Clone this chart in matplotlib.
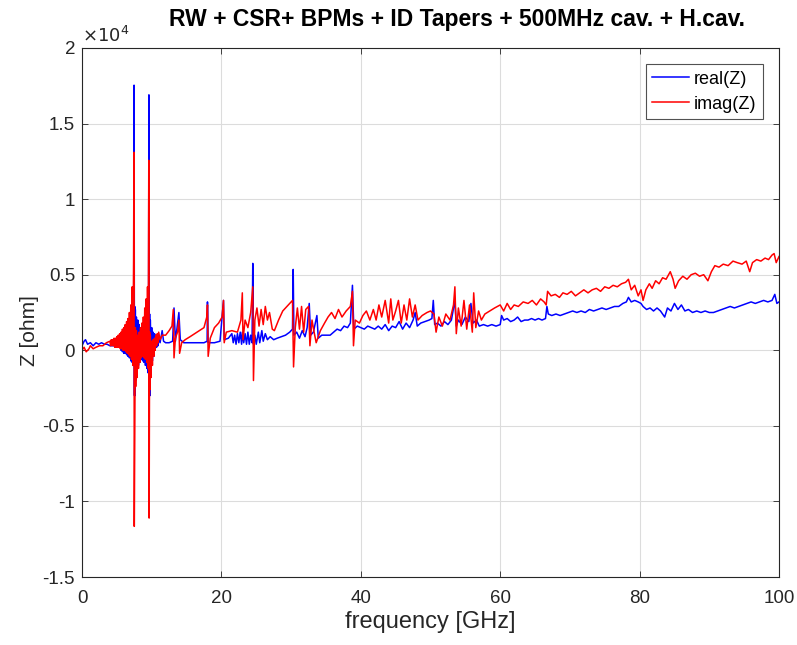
import numpy as np
import matplotlib.pyplot as plt

plt.rcParams['font.family'] = ['Liberation Sans', 'DejaVu Sans']

# ---------------------------------------------------------------
# impedance, Z in units of 1e4 ohm
# ---------------------------------------------------------------
freq_re = [0.0, 0.3, 0.5, 0.8, 1.2, 1.6, 2.0, 2.4, 2.8, 3.2, 3.6, 4.0, 4.5, 5.0,
           5.5, 5.6, 5.7, 5.8, 5.9, 6.0, 6.1, 6.2, 6.3, 6.4, 6.5, 6.6, 6.7, 6.8, 6.9,
           7.0, 7.1, 7.2, 7.3, 7.35, 7.42,
           7.47, 7.52, 7.56, 7.6, 7.65, 7.7, 7.8, 7.9, 8.0, 8.1, 8.2, 8.3, 8.4, 8.5,
           8.6, 8.7, 8.8, 8.9, 9.0, 9.1, 9.2, 9.3, 9.4, 9.5, 9.55,
           9.6, 9.65, 9.7, 9.75, 9.8, 9.9, 10.0, 10.1, 10.2, 10.3, 10.4, 10.5, 10.6,
           10.7, 10.8, 10.9, 11.0, 11.2, 11.5, 11.7, 12.0, 12.5, 13.0, 13.2, 13.4,
           13.9, 14.1, 14.6, 15.5, 16.5, 17.5, 17.95, 18.0, 18.1, 19.0, 19.8, 20.3,
           20.4, 21.0, 21.5, 21.7, 21.9, 22.1, 22.3, 22.5, 22.7, 22.9, 23.0, 23.2,
           23.4, 23.6, 23.8, 24.0, 24.2, 24.4, 24.5, 24.6, 24.8, 25.0, 25.3, 25.5,
           25.8, 26.0, 26.3, 26.6, 27.0, 27.5, 28.0, 28.6, 29.2, 29.8, 30.2, 30.3,
           30.4, 30.8, 31.2, 31.6, 32.0, 32.3, 32.6, 32.8, 33.2, 33.7, 33.9, 34.4,
           35.0, 35.6, 36.1, 36.6, 37.1, 37.6, 38.1, 38.5, 38.8, 39.0, 39.5, 40.0,
           40.5, 41.0, 41.5, 42.0, 42.5, 43.0, 43.5, 44.0, 44.5, 45.0, 45.5, 46.0,
           46.5, 47.0, 47.5, 47.8, 48.1, 48.6, 49.2, 49.8, 50.2, 50.4, 50.6, 51.0,
           51.5, 52.0, 52.5, 53.0, 53.5, 53.7, 54.0, 54.5, 55.0, 55.5, 55.8, 56.1,
           56.6, 57.0, 57.6, 58.2, 58.8, 59.4, 60.0, 60.2, 60.5, 61.0, 61.5, 62.0,
           62.5, 63.0, 63.5, 64.0, 64.5, 65.0, 65.5, 66.0, 66.5, 66.7, 66.9, 67.4,
           68.0, 68.6, 69.2, 69.8, 70.4, 71.0, 71.6, 72.2, 72.8, 73.4, 74.0, 74.6,
           75.2, 75.8, 76.4, 77.0, 77.6, 78.1, 78.4, 78.8, 79.3, 79.8, 80.2, 80.5,
           81.0, 81.5, 82.0, 82.5, 83.0, 83.6, 84.0, 84.5, 85.0, 85.5, 86.0, 86.5,
           87.0, 87.6, 88.2, 88.8, 89.4, 90.0, 90.6, 91.2, 91.8, 92.4, 93.0, 93.6,
           94.2, 94.8, 95.4, 96.0, 96.6, 97.2, 97.8, 98.4, 99.0, 99.4, 99.7, 100.0]
z_re = [0.03, 0.06, 0.07, 0.04, 0.05, 0.03, 0.05, 0.04, 0.05, 0.04, 0.04, 0.03, 0.03, 0.03,
        0.06, 0.0, 0.06, -0.01, 0.07, -0.02, 0.08, -0.02, 0.09, -0.03, 0.10, -0.04, 0.11, -0.05, 0.12,
        -0.07, 0.14, -0.08, 0.18, -0.10, 0.3,
        1.754, -0.3, 0.29, -0.3, 0.27, -0.2, 0.22, -0.13, 0.2, -0.1, 0.17, -0.08, 0.15, -0.06,
        0.15, -0.07, 0.16, -0.08, 0.18, -0.1, 0.19, -0.12, 0.2, -0.15, 0.3,
        1.69, -0.3, 0.24, -0.3, 0.2, -0.1, 0.15, -0.07, 0.12, -0.04, 0.11, 0.0, 0.10,
        0.02, 0.09, 0.03, 0.08, 0.05, 0.13, 0.06, 0.05, 0.05, 0.06, 0.28, 0.06,
        0.25, 0.07, 0.05, 0.05, 0.05, 0.05, 0.06, 0.32, 0.05, 0.05, 0.06, 0.33,
        0.07, 0.08, 0.11, 0.05, 0.10, 0.04, 0.11, 0.05, 0.12, 0.04, 0.12, 0.05,
        0.11, 0.04, 0.12, 0.04, 0.10, 0.05, 0.575, 0.04, 0.10, 0.04, 0.12, 0.05,
        0.13, 0.06, 0.11, 0.07, 0.09, 0.07, 0.08, 0.09, 0.10, 0.12, 0.14, 0.535,
        0.10, 0.12, 0.08, 0.13, 0.09, 0.15, 0.31, 0.10, 0.12, 0.23, 0.08, 0.10,
        0.10, 0.10, 0.12, 0.14, 0.13, 0.16, 0.15, 0.18, 0.43, 0.14, 0.16, 0.15,
        0.14, 0.16, 0.15, 0.14, 0.16, 0.14, 0.17, 0.13, 0.16, 0.15, 0.19, 0.14,
        0.18, 0.15, 0.20, 0.25, 0.16, 0.18, 0.19, 0.20, 0.21, 0.33, 0.17, 0.18,
        0.16, 0.19, 0.17, 0.20, 0.33, 0.16, 0.20, 0.17, 0.22, 0.19, 0.31, 0.18,
        0.20, 0.16, 0.17, 0.16, 0.17, 0.16, 0.17, 0.23, 0.20, 0.21, 0.19, 0.20,
        0.22, 0.19, 0.20, 0.20, 0.21, 0.20, 0.21, 0.20, 0.21, 0.29, 0.24, 0.23,
        0.24, 0.23, 0.24, 0.25, 0.26, 0.25, 0.26, 0.25, 0.27, 0.26, 0.27, 0.28,
        0.27, 0.28, 0.29, 0.29, 0.31, 0.32, 0.35, 0.32, 0.33, 0.32, 0.31, 0.29,
        0.27, 0.28, 0.26, 0.28, 0.26, 0.22, 0.28, 0.26, 0.31, 0.27, 0.30, 0.26,
        0.27, 0.25, 0.26, 0.25, 0.26, 0.25, 0.25, 0.26, 0.27, 0.28, 0.29, 0.28,
        0.29, 0.30, 0.31, 0.32, 0.31, 0.32, 0.33, 0.32, 0.33, 0.37, 0.31, 0.32]

freq_im = [0.0, 0.3, 0.6, 1.0, 1.2, 1.6, 2.0, 2.5, 3.0, 3.5,
           4.0, 4.1, 4.2, 4.3, 4.4, 4.5, 4.6, 4.7, 4.8, 4.9, 5.0, 5.1, 5.2, 5.3,
           5.4, 5.5, 5.6, 5.7, 5.8, 5.9, 6.0, 6.1, 6.2, 6.3, 6.4, 6.5, 6.6, 6.7,
           6.8, 6.9, 7.0, 7.1, 7.2, 7.3, 7.4,
           7.45, 7.5, 7.6, 7.65, 7.7, 7.8, 7.9, 8.0, 8.1, 8.2, 8.3, 8.4, 8.5, 8.6,
           8.7, 8.8, 8.9, 9.0, 9.1, 9.2, 9.3, 9.4, 9.5, 9.55,
           9.58, 9.63, 9.7, 9.75, 9.8, 9.9, 10.0, 10.1, 10.2, 10.3, 10.4, 10.5,
           10.6, 10.7, 10.8, 10.9, 11.0, 11.2, 11.5, 12.0, 12.5, 12.9, 13.1, 13.2,
           13.4, 13.7, 13.9, 14.0, 14.3, 14.8, 15.5, 16.5, 17.5, 17.9, 18.0, 18.1,
           18.4, 19.0, 19.6, 20.1, 20.3, 20.4, 20.7, 21.5, 22.3, 22.8, 23.0, 23.1,
           23.4, 23.8, 24.2, 24.5, 24.6, 24.8, 25.1, 25.4, 25.7, 26.0, 26.3, 26.6,
           26.9, 27.3, 27.6, 28.2, 28.8, 29.4, 30.0, 30.2, 30.35, 30.6, 30.9, 31.2,
           31.5, 31.8, 32.1, 32.5, 32.7, 33.0, 33.3, 33.6, 34.2, 34.8, 35.3, 35.8,
           36.3, 36.8, 37.3, 37.9, 38.5, 38.8, 38.95, 39.2, 39.8, 40.3, 40.8, 41.3,
           41.8, 42.2, 42.6, 43.0, 43.5, 44.0, 44.3, 44.6, 45.0, 45.4, 45.8, 46.2,
           46.6, 47.0, 47.4, 47.8, 48.2, 48.8, 49.5, 50.0, 50.5, 50.8, 51.2, 51.7,
           52.2, 52.8, 53.3, 53.5, 53.7, 54.0, 54.4, 54.8, 55.2, 55.6, 56.0, 56.2,
           56.5, 56.9, 57.3, 57.8, 58.5, 59.2, 60.0, 60.5, 61.0, 61.5, 62.0, 62.6,
           63.3, 64.0, 64.6, 65.2, 65.8, 66.3, 66.6, 66.8, 67.3, 67.9, 68.5, 69.0,
           69.6, 70.2, 70.8, 71.4, 72.0, 72.6, 73.2, 73.8, 74.4, 75.0, 75.6, 76.2,
           76.8, 77.4, 78.0, 78.4, 78.8, 79.3, 79.8, 80.2, 80.5, 80.9, 81.4, 81.8,
           82.3, 82.8, 83.3, 83.8, 84.4, 84.8, 85.1, 85.6, 86.2, 86.8, 87.4, 88.0,
           88.6, 89.2, 89.8, 90.3, 90.8, 91.4, 92.0, 92.7, 93.4, 94.0, 94.7, 95.3,
           95.8, 96.2, 96.8, 97.4, 98.0, 98.5, 99.0, 99.3, 99.6, 100.0]
z_im = [0.00, 0.02, -0.01, 0.01, 0.03, 0.01, 0.02, 0.03, 0.03, 0.05,
        0.06, 0.03, 0.07, 0.03, 0.07, 0.03, 0.08, 0.02, 0.08, 0.02, 0.09, 0.02, 0.10, 0.02,
        0.11, 0.01, 0.12, 0.01, 0.14, 0.00, 0.15, 0.00, 0.17, -0.01, 0.19, -0.02, 0.21, -0.03,
        0.25, -0.04, 0.30, -0.06, 0.42, -0.10, 0.6,
        1.31, -1.165, -0.26, 0.15, -0.24, 0.13, -0.18, 0.10, -0.12, 0.12, -0.08, 0.15, -0.05, 0.18,
        -0.04, 0.22, -0.05, 0.28, -0.06, 0.34, -0.08, 0.42, -0.12, 0.6,
        1.257, -1.11, 0.12, -0.26, 0.10, -0.18, 0.06, -0.10, 0.07, -0.04, 0.08, 0.0,
        0.10, 0.03, 0.11, 0.05, 0.12, 0.07, 0.10, 0.10, 0.13, 0.16, 0.27, -0.05,
        0.08, 0.12, 0.20, -0.02, 0.05, 0.07, 0.09, 0.12, 0.15, 0.22, 0.30, -0.04,
        0.08, 0.15, 0.18, 0.22, 0.33, 0.05, 0.12, 0.13, 0.12, 0.20, 0.38, 0.07,
        0.20, 0.15, 0.25, 0.42, -0.20, 0.20, 0.28, 0.16, 0.27, 0.17, 0.29, 0.20,
        0.25, 0.14, 0.13, 0.20, 0.26, 0.29, 0.32, 0.33, -0.11, 0.15, 0.28, 0.14,
        0.29, 0.12, 0.27, 0.29, 0.03, 0.20, 0.12, 0.05, 0.13, 0.18, 0.22, 0.25,
        0.21, 0.27, 0.22, 0.26, 0.29, 0.39, 0.03, 0.20, 0.18, 0.23, 0.26, 0.20,
        0.27, 0.20, 0.30, 0.22, 0.33, 0.18, 0.34, 0.20, 0.26, 0.33, 0.18, 0.30,
        0.20, 0.34, 0.22, 0.30, 0.20, 0.23, 0.25, 0.26, 0.24, 0.12, 0.22, 0.16,
        0.24, 0.20, 0.30, 0.42, 0.11, 0.28, 0.16, 0.33, 0.14, 0.30, 0.12, 0.38,
        0.15, 0.26, 0.20, 0.24, 0.26, 0.28, 0.30, 0.26, 0.31, 0.27, 0.30, 0.29,
        0.32, 0.31, 0.33, 0.30, 0.34, 0.32, 0.30, 0.39, 0.36, 0.37, 0.35, 0.38,
        0.37, 0.39, 0.36, 0.38, 0.40, 0.38, 0.40, 0.41, 0.39, 0.42, 0.41, 0.43,
        0.42, 0.44, 0.45, 0.47, 0.40, 0.43, 0.36, 0.40, 0.33, 0.40, 0.44, 0.41,
        0.46, 0.44, 0.48, 0.47, 0.52, 0.47, 0.41, 0.46, 0.49, 0.47, 0.50, 0.51,
        0.49, 0.50, 0.46, 0.52, 0.56, 0.55, 0.57, 0.56, 0.59, 0.58, 0.57, 0.59,
        0.52, 0.58, 0.60, 0.59, 0.61, 0.60, 0.63, 0.64, 0.58, 0.62]

y_ticks = [-1.5, -1, -0.5, 0, 0.5, 1, 1.5, 2]
y_labels = ['-1.5', '-1', '-0.5', '0', '0.5', '1', '1.5', '2']
x_ticks = [0, 20, 40, 60, 80, 100]

# ---------------------------------------------------------------
fig = plt.figure(figsize=(7.97, 6.45), dpi=100)
ax = fig.add_axes([0.1029, 0.1054, 0.8745, 0.8202])

ax.plot(freq_re, np.array(z_re) * 1e4, color='#0000ff', linewidth=1.1, label='real(Z)')
ax.plot(freq_im, np.array(z_im) * 1e4, color='#ff0000', linewidth=1.1, label='imag(Z)')

ax.set_xlim(0, 100)
ax.set_ylim(-1.5e4, 2e4)
ax.set_xticks(x_ticks)
ax.set_xticklabels([str(t) for t in x_ticks])
ax.set_yticks([v * 1e4 for v in y_ticks])
ax.set_yticklabels(y_labels)
ax.tick_params(direction='in', length=4, width=0.6, labelsize=13.5, colors='#262626',
               top=True, right=True)
ax.tick_params(axis='x', pad=9)
ax.tick_params(axis='y', pad=5)
ax.grid(True, color='#dcdcdc', linewidth=0.8)
ax.set_axisbelow(True)
for spine in ax.spines.values():
    spine.set_color('#262626')
    spine.set_linewidth(0.8)

ax.text(0.0, 1.004, r'$\times10^{4}$', transform=ax.transAxes, ha='left', va='bottom',
        fontsize=13, color='#262626')

ax.set_xlabel('frequency [GHz]', fontsize=17, color='#262626', labelpad=3)
ax.set_ylabel('Z [ohm]', fontsize=15, color='#262626', labelpad=4)
ax.yaxis.set_label_coords(-0.062, 0.465)
fig.text(0.574, 0.969, 'RW + CSR+ BPMs + ID Tapers + 500MHz cav. + H.cav.',
         ha='center', va='center', fontsize=16.5, fontweight='bold', color='#000000')

leg = ax.legend(loc='upper right', fontsize=13, frameon=True, fancybox=False,
                handlelength=2.0, handletextpad=0.3, borderpad=0.35, labelspacing=0.45,
                borderaxespad=0.9)
leg.get_frame().set_edgecolor('#262626')
leg.get_frame().set_linewidth(0.8)

fig.savefig('out.png', dpi=100)
